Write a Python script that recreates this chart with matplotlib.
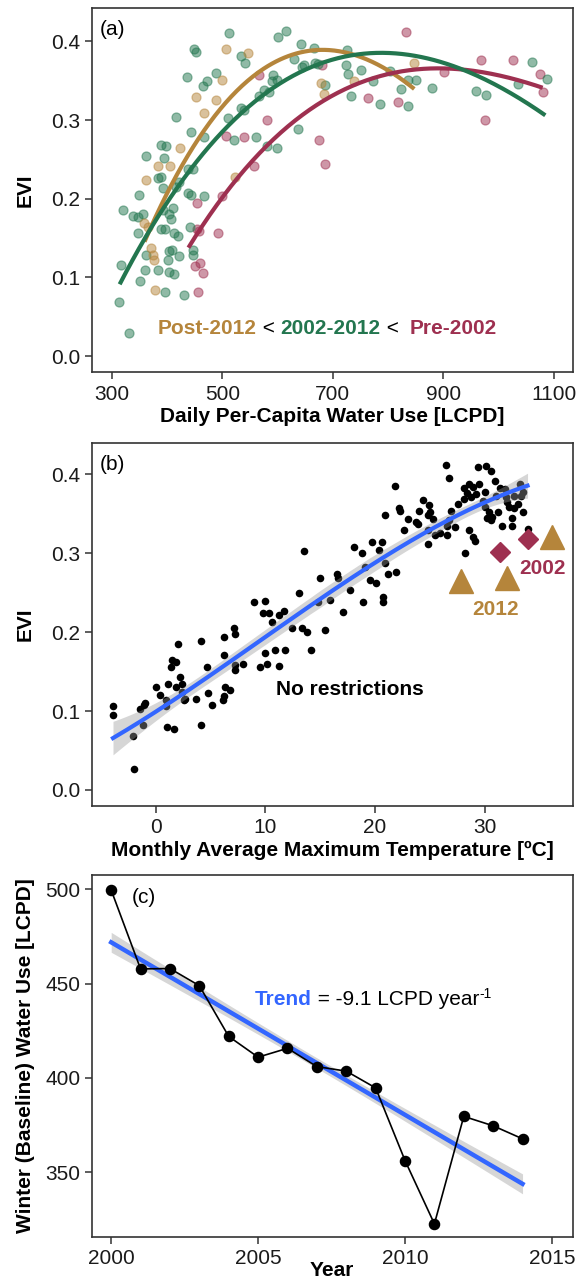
import numpy as np
import matplotlib
matplotlib.use('Agg')
import matplotlib.pyplot as plt
from matplotlib.ticker import FormatStrFormatter

plt.rcParams['font.family'] = ['Liberation Sans', 'DejaVu Sans']

# ---------------- Panel (a): EVI vs daily per-capita water use ----------------
green_x = [512, 601.5, 614.7, 449.4, 452.4, 533.5, 540.8, 436.2, 472.2, 464.5, 488.5, 592.5,
           599.7, 590.7, 575.6, 566.5, 584.6, 533.5, 539.5, 510.7, 416.3, 443.4, 466.3, 560.6,
           521.5, 581.7, 599.7, 389.3, 398.3, 362.2, 394.1, 438.5, 446.4, 383.3, 389.3, 422.3,
           416.3, 392.3, 349, 437.4, 443.4, 466.3, 320.2, 338.2, 347.2, 356.3, 392.3, 402.5,
           410.3, 407.3, 389.3, 396.5, 347.2, 413.2, 420.5, 362.2, 404.2, 408.6, 422.3, 401.3,
           440.8, 317.1, 359.2, 383.3, 402.5, 413.2, 351.4, 396.5, 431.3, 312.3, 330.3, 446.4,
           446.4, 643, 665.2, 629.1, 644.1, 647.2, 668.3, 673, 725.2, 723.4, 727, 751.2, 773.4,
           803.5, 823.3, 836.5, 851.5, 879.8, 732.6, 785.5, 835.4, 959.7, 977.7, 636.9, 686.3,
           1060.2, 1087.2, 1034.9]
green_y = [0.410, 0.406, 0.413, 0.390, 0.387, 0.382, 0.373, 0.355, 0.350, 0.343, 0.360, 0.357,
           0.351, 0.349, 0.338, 0.330, 0.336, 0.315, 0.313, 0.303, 0.304, 0.285, 0.279, 0.278,
           0.275, 0.267, 0.264, 0.268, 0.267, 0.254, 0.252, 0.238, 0.238, 0.226, 0.228, 0.221,
           0.215, 0.213, 0.205, 0.207, 0.205, 0.203, 0.186, 0.178, 0.177, 0.180, 0.186, 0.181,
           0.188, 0.174, 0.162, 0.162, 0.156, 0.156, 0.153, 0.128, 0.133, 0.135, 0.127, 0.122,
           0.164, 0.116, 0.109, 0.109, 0.107, 0.104, 0.095, 0.081, 0.078, 0.069, 0.029, 0.135,
           0.128, 0.397, 0.391, 0.378, 0.368, 0.370, 0.372, 0.371, 0.389, 0.370, 0.358, 0.363,
           0.350, 0.362, 0.340, 0.351, 0.351, 0.341, 0.330, 0.320, 0.318, 0.337, 0.332, 0.288,
           0.344, 0.374, 0.352, 0.346]

gold_x = [506.5, 545.6, 499.3, 452.4, 488.5, 466.3, 424.1, 383.3, 406, 362.2, 522.7, 358.1,
          365.3, 370, 374.3, 376.1, 377.2, 679.1, 683.2, 739.1, 847.5]
gold_y = [0.390, 0.385, 0.351, 0.329, 0.325, 0.309, 0.264, 0.241, 0.241, 0.224, 0.228, 0.169,
          0.164, 0.137, 0.128, 0.122, 0.084, 0.347, 0.333, 0.349, 0.373]

maroon_x = [566.5, 580.4, 506.5, 538.4, 556.4, 499.3, 454.2, 454.2, 458.3, 491.5, 450.6, 460.1,
            464.5, 455.4, 831.7, 680.1, 764.4, 818.5, 901.4, 967.6, 974.8, 675.5, 685, 1027.1,
            1075.1, 1081.2]
maroon_y = [0.357, 0.300, 0.280, 0.278, 0.241, 0.203, 0.195, 0.162, 0.159, 0.156, 0.115, 0.118,
            0.106, 0.082, 0.412, 0.370, 0.328, 0.323, 0.361, 0.376, 0.300, 0.274, 0.244, 0.376,
            0.359, 0.336]

# fitted curves
gold_curve_x = [359, 398, 443.4, 503.5, 563.7, 620, 665, 710, 770, 812.5, 847.5]
gold_curve_y = [0.147, 0.202, 0.262, 0.319, 0.359, 0.385, 0.389, 0.387, 0.372, 0.357, 0.341]
green_curve_x = [314, 359, 407.3, 461.4, 533.5, 599.7, 680.1, 740.4, 800.5, 860.5, 920.8, 980.8, 1031.8, 1084.8]
green_curve_y = [0.092, 0.147, 0.203, 0.253, 0.313, 0.344, 0.370, 0.382, 0.385, 0.380, 0.368, 0.351, 0.332, 0.304]
maroon_curve_x = [438.5, 500, 551.6, 621.8, 680.1, 740.4, 800.5, 860.5, 920.8, 976, 1031.8, 1080]
maroon_curve_y = [0.137, 0.201, 0.249, 0.292, 0.325, 0.344, 0.357, 0.363, 0.366, 0.362, 0.353, 0.339]

# ---------------- Panel (b): EVI vs monthly max temperature ----------------
temp_x = [26.5, 26.7, 29.4, 30.1, 30.6, 21.8, 28.1, 28.6, 28.9, 29.5, 28.4, 28.1, 28.7, 30.0, 31.0,
          31.9, 32.7, 33.2, 33.3, 24.4, 24.9, 22.2, 22.3, 24.0, 24.8, 25.0, 26.9, 20.9, 23.0, 23.7,
          23.9, 22.6, 24.8, 25.5, 25.9, 26.6, 24.8, 26.6, 26.7, 28.6, 28.9, 29.1, 28.2, 30.0, 30.4,
          30.7, 31.2, 30.2, 31.6, 32.5, 32.5, 32.2, 32.7, 33.5, 33.9, 33.5, 30.6, 18.1, 18.8, 19.7,
          20.6, 20.4, 20.9, 19.1, 16.5, 16.6, 17.7, 19.5, 20.1, 21.2, 21.9, 18.9, 20.7, 20.7, 17.1,
          15.9, 13.5, 15.0, 13.1, 14.8, 9.0, 10.0, 9.8, 10.3, 11.2, 11.7, 10.6, 7.1, 12.4, 13.3,
          15.4, 2.0, 4.1, 6.2, 7.2, 14.2, 9.95, 10.9, 11.8, 10.1, 11.2, 9.5, 6.2, 1.5, 1.8, 1.4,
          4.7, 7.2, 8.0, 7.2, 2.2, 1.1, 1.8, 2.4, 2.4, 2.6, 0.0, 0.4, 0.9, 0.9, -1.1, -1.0, -1.4,
          -1.2, 1.0, 1.7, -3.9, -3.9, -2.1, -2.0, 4.1, 2.7, 3.7, 4.8, 5.1, 6.2, 6.3, 6.8, 6.1, 13.8,
          29.8, 31.4, 32.0, 29.2, 27.6, 31.8, 33.0, 30.9, 27.3, 25.3]
evi_y = [0.412, 0.395, 0.409, 0.411, 0.404, 0.385, 0.383, 0.388, 0.384, 0.388, 0.376, 0.369, 0.371,
         0.378, 0.373, 0.371, 0.373, 0.388, 0.373, 0.367, 0.361, 0.357, 0.353, 0.354, 0.348, 0.352,
         0.354, 0.348, 0.343, 0.339, 0.337, 0.329, 0.330, 0.323, 0.325, 0.323, 0.312, 0.335, 0.342,
         0.330, 0.321, 0.316, 0.300, 0.359, 0.352, 0.346, 0.352, 0.344, 0.335, 0.335, 0.344, 0.359,
         0.357, 0.352, 0.331, 0.378, 0.342, 0.308, 0.300, 0.314, 0.314, 0.304, 0.287, 0.283, 0.274,
         0.268, 0.253, 0.266, 0.262, 0.274, 0.276, 0.238, 0.238, 0.245, 0.226, 0.241, 0.303, 0.268,
         0.250, 0.238, 0.238, 0.239, 0.224, 0.224, 0.222, 0.227, 0.213, 0.205, 0.205, 0.205, 0.203,
         0.185, 0.189, 0.194, 0.198, 0.177, 0.173, 0.177, 0.177, 0.160, 0.157, 0.156, 0.171, 0.165,
         0.162, 0.156, 0.156, 0.158, 0.159, 0.152, 0.143, 0.134, 0.131, 0.134, 0.124, 0.114, 0.131,
         0.120, 0.106, 0.114, 0.108, 0.110, 0.103, 0.082, 0.080, 0.077, 0.106, 0.095, 0.068, 0.027,
         0.082, 0.115, 0.115, 0.123, 0.108, 0.119, 0.131, 0.127, 0.114, 0.200,
         0.366, 0.382, 0.365, 0.375, 0.362, 0.381, 0.362, 0.391, 0.333, 0.343]

# smoothed (loess) trend
smooth_x = [-3.9, 1.1, 6.2, 10.3, 15.9, 18.9, 21.9, 25.0, 28.0, 31.0, 33.9]
smooth_y = [0.067, 0.108, 0.152, 0.2025, 0.253, 0.276, 0.304, 0.329, 0.350, 0.371, 0.386]

restr2012_x = [27.8, 32.0, 36.1]
restr2012_y = [0.265, 0.268, 0.320]
restr2002_x = [31.4, 33.9]
restr2002_y = [0.301, 0.318]

# ---------------- Panel (c): winter baseline water use ----------------
years = [2000, 2001, 2002, 2003, 2004, 2005, 2006, 2007, 2008, 2009, 2010, 2011, 2012, 2013, 2014]
winter_use = [499.6, 457.8, 458.0, 448.9, 422.0, 411.0, 415.7, 406.0, 403.6, 394.7, 356.2, 322.6,
              379.6, 374.6, 367.7]

# ---------------- colours ----------------
C_GOLD = '#B5853B'
C_GREEN = '#23764F'
C_MAROON = '#9E3050'
C_BLUE = '#3366FF'
C_AX = '#333333'
FS = 15

fig = plt.figure(figsize=(5.82, 12.79), dpi=100)
L, Wd = 91.5 / 582, 481 / 582


def add_ax(top_px, bottom_px):
    return fig.add_axes([L, 1 - bottom_px / 1279, Wd, (bottom_px - top_px) / 1279])


axA = add_ax(8.3, 372)
axB = add_ax(443, 805.7)
axC = add_ax(875, 1236.7)

for ax in (axA, axB, axC):
    for s in ax.spines.values():
        s.set_color(C_AX)
        s.set_linewidth(1.2)
    ax.tick_params(direction='out', length=5, width=1.1, color=C_AX, labelsize=FS,
                   labelcolor='#1a1a1a')
    ax.tick_params(axis='x', pad=4)
    ax.tick_params(axis='y', pad=3)


# ---- (a)
def smooth_curve(cx, cy, deg=3, num=200):
    coef = np.polyfit(cx, cy, deg)
    xs = np.linspace(min(cx), max(cx), num)
    return xs, np.polyval(coef, xs)


axA.scatter(maroon_x, maroon_y, s=42, color=C_MAROON, alpha=0.5, linewidths=0.9, zorder=2)
axA.scatter(green_x, green_y, s=42, color=C_GREEN, alpha=0.5, linewidths=0.9, zorder=2)
axA.scatter(gold_x, gold_y, s=42, color=C_GOLD, alpha=0.5, linewidths=0.9, zorder=2)
for cx, cy, col in ((gold_curve_x, gold_curve_y, C_GOLD),
                    (maroon_curve_x, maroon_curve_y, C_MAROON),
                    (green_curve_x, green_curve_y, C_GREEN)):
    xs, ys = smooth_curve(cx, cy)
    axA.plot(xs, ys, color=col, lw=3.0, solid_capstyle='butt', zorder=3)

axA.set_xlim(263, 1134)
axA.set_ylim(-0.0203, 0.442)
axA.set_xticks([300, 500, 700, 900, 1100])
axA.set_yticks([0.0, 0.1, 0.2, 0.3, 0.4])
axA.yaxis.set_major_formatter(FormatStrFormatter('%.1f'))
axA.set_xlabel('Daily Per-Capita Water Use [LCPD]', fontsize=FS, fontweight='bold', labelpad=2.5)
axA.set_ylabel('EVI', fontsize=FS, fontweight='bold')
axA.text(0.018, 0.968, '(a)', transform=axA.transAxes, fontsize=FS, ha='left', va='top')

t = axA.text(383, 0.035, 'Post-2012', color=C_GOLD, fontsize=FS, fontweight='bold',
             ha='left', va='center')
for s, col, wt in ((' < ', 'black', 'normal'), ('2002-2012', C_GREEN, 'bold'),
                   (' <  ', 'black', 'normal'), ('Pre-2002', C_MAROON, 'bold')):
    t = axA.annotate(s, xy=(1, 0.5), xycoords=t, color=col, fontsize=FS, fontweight=wt,
                     ha='left', va='center')


# ---- (b)
def loess_se(x, y, xg, span=0.75):
    x = np.asarray(x, float)
    y = np.asarray(y, float)
    n = len(x)
    q = int(np.floor(span * n))

    def weights_row(x0):
        d = np.abs(x - x0)
        h = np.sort(d)[q - 1]
        w = np.clip(1 - (d / h) ** 3, 0, None) ** 3
        X = np.column_stack([np.ones(n), x - x0, (x - x0) ** 2])
        XtW = X.T * w
        return np.linalg.solve(XtW @ X, XtW)[0]

    Lm = np.array([weights_row(xi) for xi in x])
    resid = y - Lm @ y
    IL = np.eye(n) - Lm
    d1 = np.trace(IL.T @ IL)
    sigma = np.sqrt(np.sum(resid ** 2) / d1)
    return np.array([sigma * np.sqrt(np.sum(weights_row(x0) ** 2)) for x0 in xg])


axB.scatter(temp_x, evi_y, s=30, color='black', linewidths=0, zorder=2)
xg, fit = smooth_curve(smooth_x, smooth_y, deg=3, num=150)
se = loess_se(temp_x, evi_y, xg)
axB.fill_between(xg, fit - 1.97 * se, fit + 1.97 * se, color='#999999', alpha=0.4, linewidth=0, zorder=3)
axB.plot(xg, fit, color=C_BLUE, lw=3.0, zorder=4)
axB.plot(restr2012_x, restr2012_y, linestyle='none', marker='^', markersize=17, color=C_GOLD, zorder=5)
axB.plot(restr2002_x, restr2002_y, linestyle='none', marker='D', markersize=10.5, color=C_MAROON, zorder=5)
axB.text(35.3, 0.281, '2002', color=C_MAROON, fontsize=FS, fontweight='bold', ha='center', va='center')
axB.text(31.0, 0.229, '2012', color=C_GOLD, fontsize=FS, fontweight='bold', ha='center', va='center')
axB.text(17.7, 0.127, 'No restrictions', color='black', fontsize=FS, fontweight='bold',
         ha='center', va='center')

axB.set_xlim(-5.86, 38)
axB.set_ylim(-0.0199, 0.4396)
axB.set_xticks([0, 10, 20, 30])
axB.set_yticks([0.0, 0.1, 0.2, 0.3, 0.4])
axB.yaxis.set_major_formatter(FormatStrFormatter('%.1f'))
axB.set_xlabel('Monthly Average Maximum Temperature [ºC]', fontsize=FS, fontweight='bold', labelpad=2.5)
axB.set_ylabel('EVI', fontsize=FS, fontweight='bold')
axB.text(0.018, 0.967, '(b)', transform=axB.transAxes, fontsize=FS, ha='left', va='top')

# ---- (c)
yrs = np.array(years, float)
use = np.array(winter_use, float)
coef = np.polyfit(yrs, use, 1)
xf = np.linspace(yrs.min(), yrs.max(), 100)
yf = np.polyval(coef, xf)
n = len(yrs)
res = use - np.polyval(coef, yrs)
s_err = np.sqrt(np.sum(res ** 2) / (n - 2))
band_scale = 0.24
half = band_scale * 2.16 * s_err * np.sqrt(1 / n + (xf - yrs.mean()) ** 2 / np.sum((yrs - yrs.mean()) ** 2))
axC.fill_between(xf, yf - half, yf + half, color='#999999', alpha=0.4, linewidth=0, zorder=2)
axC.plot(xf, yf, color=C_BLUE, lw=3.2, zorder=3)
axC.plot(years, winter_use, color='black', lw=1.2, marker='o', markersize=7.3, zorder=4)

axC.set_xlim(1999.33, 2015.7)
axC.set_ylim(315.8, 507.6)
axC.set_xticks([2000, 2005, 2010, 2015])
axC.set_yticks([350, 400, 450, 500])
axC.set_xlabel('Year', fontsize=FS, fontweight='bold', labelpad=-5.5)
axC.set_ylabel('Winter (Baseline) Water Use [LCPD]', fontsize=FS, fontweight='bold')
axC.text(0.084, 0.964, '(c)', transform=axC.transAxes, fontsize=FS, ha='left', va='top')

tt = axC.text(2004.9, 441.8, 'Trend', color=C_BLUE, fontsize=FS, fontweight='bold', ha='left', va='center')
t2 = axC.annotate(' = -9.1 LCPD year', xy=(1, 0.5), xycoords=tt, color='black',
                  fontsize=FS, ha='left', va='center')
axC.annotate('-1', xy=(1, 0.78), xycoords=t2, color='black', fontsize=10, ha='left', va='center')

for ax in (axA, axB, axC):
    ax.yaxis.set_label_coords(-0.118, 0.5)

fig.savefig('out.png', dpi=100)
